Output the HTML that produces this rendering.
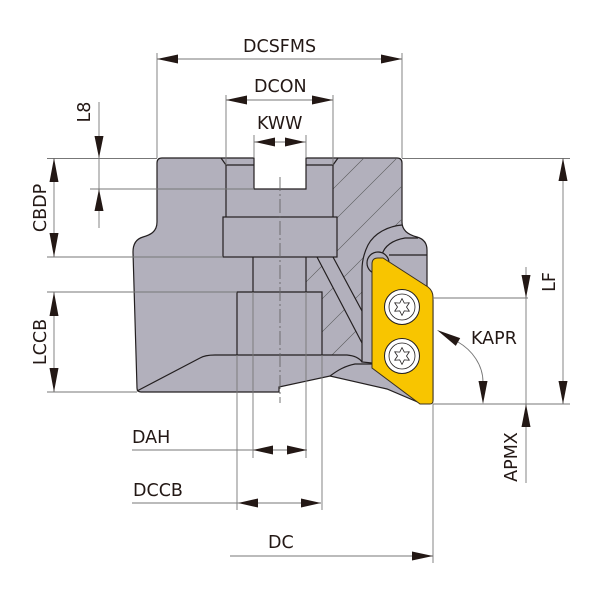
<!DOCTYPE html>
<html><head><meta charset="utf-8"><style>
html,body{margin:0;padding:0;background:#fff;width:600px;height:600px;overflow:hidden}
svg{display:block}
text{font-family:"DejaVu Sans","Liberation Sans",sans-serif;font-size:17.5px;fill:#231815}
</style></head><body>
<svg width="600" height="600" viewBox="0 0 600 600" xmlns="http://www.w3.org/2000/svg">
<defs>
<clipPath id="hc"><path d="M338,158 L397,158 L402,163 L402,225 C390,226 375,232 368,245 C364,253 362,262 362,270 L362,355 L322,355 L322,292 L306,292 L306,257 L337,257 L337,217 L333,217 L333,165 Z"/></clipPath>
</defs>
<rect width="600" height="600" fill="#fff"/>

<!-- body -->
<path d="M162,158 L254,158 L254,189 L306,189 L306,158 L397,158 Q402,158 402,163 L402,222 C402,231 409,235 417,237 C424,239 427,244 427,250 L427,295 L433,300 L433,400 L420,403 L387,389 L330,376 L279,387 L279,392 L141,392 Q137,392 137,388 L133,252 C133,244 136,239 143,237 C150,235 157,232 157,222 L157,163 Q157,158 162,158 Z" fill="#b2b0bc" stroke="#231f20" stroke-width="1.2"/>

<!-- hatching -->
<g clip-path="url(#hc)" stroke="#555" stroke-width="0.6">
<line x1="372" y1="150" x2="122" y2="400"/>
<line x1="405" y1="150" x2="155" y2="400"/>
<line x1="438" y1="150" x2="188" y2="400"/>
<line x1="471" y1="150" x2="221" y2="400"/>
<line x1="504" y1="150" x2="254" y2="400"/>
<line x1="537" y1="150" x2="287" y2="400"/>
<line x1="570" y1="150" x2="320" y2="400"/>
<line x1="603" y1="150" x2="353" y2="400"/>
</g>
<!-- coolant band -->
<path d="M317,257 L333,257 L362,311 L362,343 Z" fill="#b2b0bc"/>

<!-- inner body lines -->
<g fill="none" stroke="#231f20" stroke-width="1.2">
<path d="M221,158 L226,165 L254,165"/>
<path d="M306,165 L333,165 L338,158"/>
<path d="M226,165 L226,217 M333,165 L333,217"/>
<rect x="223" y="217" width="114" height="40"/>
<path d="M253,257 L253,292 M306,257 L306,292"/>
<path d="M237,355 L237,292 L322,292 L322,355"/>
<path d="M137,391 L200,358 Q205,355 215,355 L347,355 Q358,356 362,362"/>
<path d="M402,225 C390,226 375,232 368,245 C364,253 362,262 362,270 L362,362 L372,363"/>
<path d="M317,257 L362,343 M333,257 L362,311"/>
<path d="M330,376 C338,370 345,366 355,364 L372,364"/>
<path d="M382,255 C384,246 393,240 405,238 L418,238"/>
<path d="M389,255 L427,255"/>
</g>
<circle cx="378" cy="263" r="11" fill="#b2b0bc" stroke="#231f20" stroke-width="1.2"/>

<!-- insert -->
<path d="M372,264 Q372,258 378,258 L383,258 L428,287 Q433,291 433,297 L433,401 Q433,404 430,404 L420,404 L372,368 Z" fill="#f8c500" stroke="#3a3020" stroke-width="1"/>
<g stroke="#231f20" fill="#fff">
<circle cx="402" cy="307" r="17.5" stroke-width="1"/>
<circle cx="402" cy="307" r="13" stroke-width="0.8"/>
<circle cx="402" cy="356" r="17.5" stroke-width="1"/>
<circle cx="402" cy="356" r="13" stroke-width="0.8"/>
</g>
<g fill="#fff" stroke="#231f20" stroke-width="0.8" stroke-linejoin="round">
<path transform="translate(402,307)" d="M0,-8.5 L2.25,-3.9 L7.36,-4.25 L4.5,0 L7.36,4.25 L2.25,3.9 L0,8.5 L-2.25,3.9 L-7.36,4.25 L-4.5,0 L-7.36,-4.25 L-2.25,-3.9 Z"/>
<path transform="translate(402,356)" d="M0,-8.5 L2.25,-3.9 L7.36,-4.25 L4.5,0 L7.36,4.25 L2.25,3.9 L0,8.5 L-2.25,3.9 L-7.36,4.25 L-4.5,0 L-7.36,-4.25 L-2.25,-3.9 Z"/>
</g>

<!-- dimension / extension lines -->
<g stroke="#777" stroke-width="0.9" fill="none">
<path d="M47,158.5 L157,158.5 M402,158.5 L570,158.5"/>
<path d="M90,189 L254,189"/>
<path d="M47,257 L223,257"/>
<path d="M47,292 L237,292"/>
<path d="M47,392 L137,392"/>
<path d="M433,298 L528,298"/>
<path d="M433,404 L570,404"/>
<path d="M132,450 L307,450"/>
<path d="M132,503 L321,503"/>
<path d="M230,556 L433,556"/>
<path d="M157,59 L402,59"/>
<path d="M226,100 L333,100"/>
<path d="M254,142 L306,142"/>
<path d="M157,53 L157,158 M402,53 L402,158"/>
<path d="M226,95 L226,165 M333,95 L333,165"/>
<path d="M254,135 L254,158 M306,135 L306,158"/>
<path d="M99,102 L99,228"/>
<path d="M54,158 L54,257 M54,292 L54,392"/>
<path d="M563,158 L563,404"/>
<path d="M526,267 L526,483"/>
<path d="M253,292 L253,458 M306,292 L306,458"/>
<path d="M237,355 L237,510 M322,355 L322,510"/>
<path d="M433,404 L433,563"/>
<path d="M458,342 C472,350 483,365 483,382"/>
</g>
<path d="M280,177 L280,403" stroke="#666" stroke-width="0.9" stroke-dasharray="14 3 2 3" fill="none"/>

<!-- arrowheads -->
<g fill="#231815">
<polygon points="157,59 178,54.5 178,63.5"/>
<polygon points="402,59 381,54.5 381,63.5"/>
<polygon points="226,100 247,95.5 247,104.5"/>
<polygon points="333,100 312,95.5 312,104.5"/>
<polygon points="255,142 275,137.5 275,146.5"/>
<polygon points="305,142 285,137.5 285,146.5"/>
<polygon points="99,158 94.5,136 103.5,136"/>
<polygon points="99,189 94.5,211 103.5,211"/>
<polygon points="54,158 49.5,182 58.5,182"/>
<polygon points="54,257 49.5,233 58.5,233"/>
<polygon points="54,292 49.5,316 58.5,316"/>
<polygon points="54,392 49.5,368 58.5,368"/>
<polygon points="563,158 558.5,181 567.5,181"/>
<polygon points="563,404 558.5,381 567.5,381"/>
<polygon points="526,298 521.5,275 530.5,275"/>
<polygon points="526,404 521.5,427 530.5,427"/>
<polygon points="253,450 273,445.5 273,454.5"/>
<polygon points="307,450 287,445.5 287,454.5"/>
<polygon points="238,503 258,498.5 258,507.5"/>
<polygon points="321,503 301,498.5 301,507.5"/>
<polygon points="433,556 412,551.5 412,560.5"/>
<polygon points="437,330 460.2,338.1 455.8,345.9"/>
<polygon points="483,404 478.5,381 487.5,381"/>
</g>

<!-- labels -->
<text x="243" y="52">DCSFMS</text>
<text x="254" y="92">DCON</text>
<text x="257" y="129">KWW</text>
<text x="132" y="443">DAH</text>
<text x="133" y="496">DCCB</text>
<text x="268" y="548">DC</text>
<text x="471" y="344">KAPR</text>
<text transform="translate(90,112) rotate(-90)" text-anchor="middle">L8</text>
<text transform="translate(46,208) rotate(-90)" text-anchor="middle">CBDP</text>
<text transform="translate(46,342) rotate(-90)" text-anchor="middle">LCCB</text>
<text transform="translate(555,282) rotate(-90)" text-anchor="middle">LF</text>
<text transform="translate(517,457) rotate(-90)" text-anchor="middle">APMX</text>
</svg>
</body></html>
